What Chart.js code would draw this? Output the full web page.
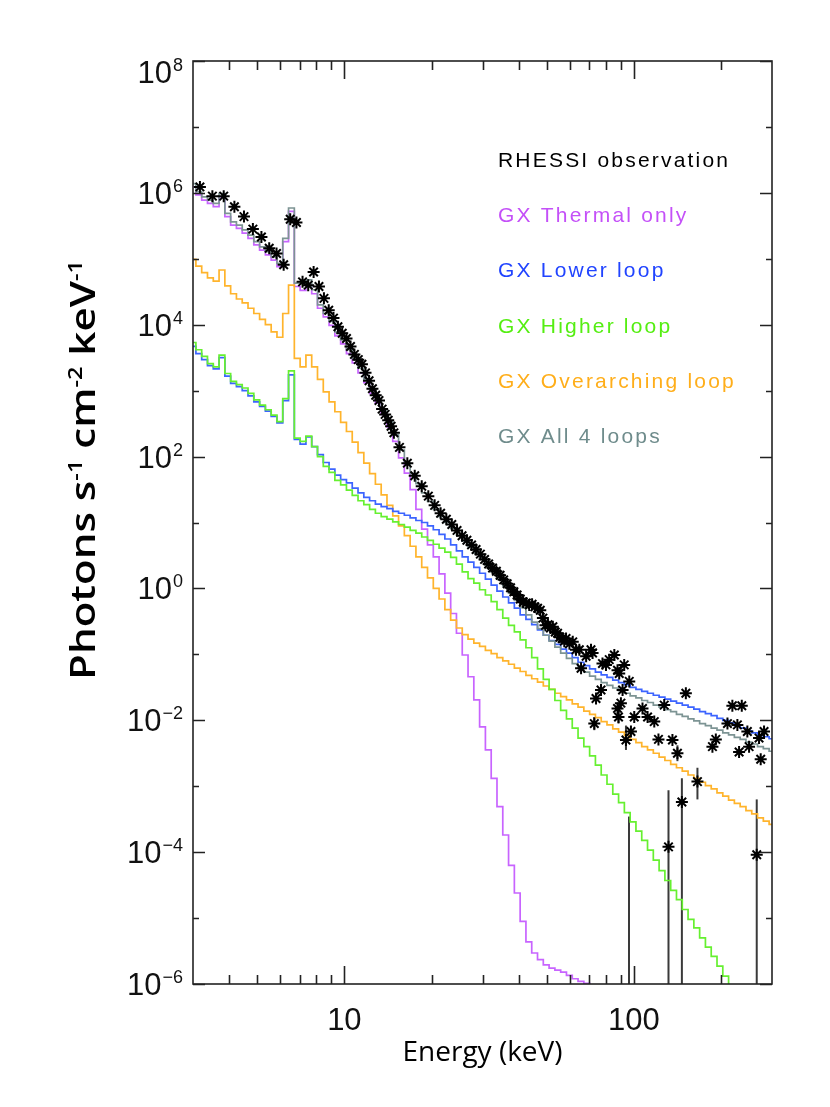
<!DOCTYPE html>
<html>
<head>
<meta charset="utf-8">
<script src="https://cdn.jsdelivr.net/npm/chart.js@4.4.0/dist/chart.umd.min.js"></script>
<style>
  html, body { margin: 0; padding: 0; background: #fff; }
  canvas { display: block; }
</style>
</head>
<body>
<canvas id="spectrum" width="830" height="1107"></canvas>
<script>
// model spectra sit on a log-spaced energy grid, 0.02 dex per bin
const binStartKeV = 2.932;
const binWidthDex = 0.02;

// log10 of flux (photons s^-1 cm^-2 keV^-1) in each model bin
const thermalLog = [
  6.09, 5.97, 5.89, 5.84, 5.79, 5.94, 5.64, 5.51, 5.46, 5.39,
  5.31, 5.21, 5.13, 5.06, 4.98, 4.88, 5.26, 5.72, 4.58, 4.52,
  4.60, 4.47, 4.25, 4.12, 3.99, 3.83, 3.71, 3.56, 3.42, 3.27,
  3.12, 2.96, 2.81, 2.64, 2.45, 2.23, 1.98, 1.75, 1.50, 1.20,
  0.90, 0.66, 0.48, 0.22, -0.07, -0.38, -0.68, -1.01, -1.34, -1.69,
  -2.10, -2.45, -2.88, -3.31, -3.74, -4.20, -4.62, -5.05, -5.36, -5.53,
  -5.63, -5.71, -5.76, -5.79, -5.82, -5.87, -5.92, -5.96, -5.99, -6.04, -6.08
];
const lowerLoopLog = [
  3.67, 3.56, 3.47, 3.38, 3.33, 3.50, 3.22, 3.11, 3.06, 3.00,
  2.92, 2.83, 2.76, 2.69, 2.61, 2.51, 2.85, 3.24, 2.26, 2.19,
  2.30, 2.15, 2.03, 1.91, 1.81, 1.72, 1.65, 1.60, 1.52, 1.45,
  1.38, 1.33, 1.28, 1.24, 1.21, 1.17, 1.14, 1.11, 1.07, 1.03,
  1.00, 0.95, 0.89, 0.82, 0.75, 0.66, 0.57, 0.48, 0.40, 0.32,
  0.23, 0.14, 0.05, -0.04, -0.13, -0.22, -0.30, -0.40, -0.47, -0.55,
  -0.63, -0.71, -0.79, -0.85, -0.92, -0.98, -1.05, -1.12, -1.17, -1.22,
  -1.27, -1.31, -1.35, -1.39, -1.43, -1.46, -1.50, -1.53, -1.56, -1.59,
  -1.62, -1.65, -1.68, -1.71, -1.74, -1.77, -1.80, -1.83, -1.87, -1.90,
  -1.93, -1.97, -2.00, -2.04, -2.08, -2.12, -2.16, -2.19, -2.22, -2.25, -2.28
];
const higherLoopLog = [
  3.73, 3.62, 3.52, 3.41, 3.36, 3.54, 3.26, 3.14, 3.09, 3.04,
  2.96, 2.86, 2.78, 2.71, 2.63, 2.53, 2.88, 3.30, 2.28, 2.23,
  2.31, 2.15, 2.00, 1.85, 1.76, 1.64, 1.57, 1.49, 1.41, 1.33,
  1.27, 1.20, 1.14, 1.09, 1.05, 1.01, 0.97, 0.93, 0.88, 0.84,
  0.78, 0.73, 0.67, 0.61, 0.55, 0.47, 0.37, 0.25, 0.15, 0.08,
  -0.02, -0.10, -0.20, -0.32, -0.45, -0.56, -0.66, -0.78, -0.90, -1.05,
  -1.22, -1.38, -1.53, -1.70, -1.85, -1.98, -2.12, -2.27, -2.40, -2.54,
  -2.68, -2.83, -2.97, -3.12, -3.25, -3.40, -3.54, -3.68, -3.82, -3.97,
  -4.12, -4.28, -4.43, -4.58, -4.72, -4.87, -5.02, -5.15, -5.30, -5.44,
  -5.58, -5.73, -5.88, -6.02, -6.16
];
const overarchingLog = [
  4.99, 4.89, 4.79, 4.71, 4.66, 4.83, 4.59, 4.47, 4.39, 4.33,
  4.25, 4.17, 4.08, 4.00, 3.89, 3.81, 4.17, 4.60, 3.49, 3.36,
  3.54, 3.36, 3.17, 2.98, 2.83, 2.68, 2.52, 2.38, 2.22, 2.06,
  1.90, 1.74, 1.58, 1.42, 1.26, 1.10, 0.95, 0.80, 0.64, 0.48,
  0.32, 0.16, 0.00, -0.16, -0.32, -0.48, -0.60, -0.70, -0.77, -0.83,
  -0.88, -0.94, -0.99, -1.05, -1.10, -1.15, -1.21, -1.26, -1.32, -1.37,
  -1.42, -1.48, -1.53, -1.59, -1.64, -1.69, -1.75, -1.80, -1.86, -1.91,
  -1.96, -2.02, -2.07, -2.13, -2.18, -2.23, -2.29, -2.34, -2.40, -2.45,
  -2.50, -2.56, -2.61, -2.67, -2.72, -2.77, -2.83, -2.88, -2.94, -2.99,
  -3.04, -3.10, -3.15, -3.21, -3.26, -3.31, -3.37, -3.42, -3.48, -3.53, -3.58
];
const allLoopsLog = [
  6.14, 6.02, 5.94, 5.89, 5.84, 5.99, 5.69, 5.56, 5.51, 5.44,
  5.36, 5.26, 5.18, 5.11, 5.03, 4.93, 5.31, 5.77, 4.63, 4.63,
  4.68, 4.53, 4.30, 4.17, 4.05, 3.89, 3.77, 3.62, 3.49, 3.34,
  3.17, 3.02, 2.88, 2.72, 2.54, 2.33, 2.10, 1.90, 1.74, 1.59,
  1.45, 1.32, 1.20, 1.09, 1.00, 0.91, 0.81, 0.72, 0.63, 0.54,
  0.45, 0.35, 0.25, 0.14, 0.04, -0.07, -0.18, -0.29, -0.40, -0.51,
  -0.61, -0.71, -0.80, -0.89, -0.98, -1.06, -1.14, -1.21, -1.27, -1.33,
  -1.38, -1.43, -1.47, -1.51, -1.55, -1.59, -1.63, -1.66, -1.70, -1.73,
  -1.77, -1.80, -1.84, -1.87, -1.91, -1.94, -1.98, -2.01, -2.05, -2.08,
  -2.12, -2.15, -2.19, -2.22, -2.26, -2.29, -2.33, -2.36, -2.40, -2.43, -2.47
];

// RHESSI points: energy (keV) and log10 flux
const obsEnergy = [
  3.17, 3.5, 3.83, 4.17, 4.5, 4.83, 5.17, 5.5, 5.83, 6.17, 6.5, 6.83,
  7.17, 7.5, 7.83, 8.17, 8.5, 8.83, 9.17, 9.5, 9.83, 10.17, 10.5, 10.83,
  11.17, 11.5, 11.83, 12.17, 12.5, 12.83, 13.17, 13.5, 13.83, 14.17, 14.5, 14.83,
  15.5, 16.5, 17.5, 18.5, 19.5, 20.5, 21.5, 22.5, 23.5, 24.5, 25.5, 26.5,
  27.5, 28.5, 29.5, 30.5, 31.5, 32.5, 33.5, 34.5, 35.5, 36.5, 37.5, 38.5,
  39.5, 40.5, 41.5, 42.5, 43.5, 44.5, 45.5, 46.5, 47.5, 48.5, 49.5, 50.5,
  51.5, 52.5, 53.5, 54.5, 55.5, 56.5, 57.5,
  58.3, 59.9, 61.5, 63.1, 64.8, 65.7, 68.4, 71.1, 72.0, 73.0, 74.0, 77.0,
  77.9, 80.1, 82.2, 85.6, 87.8, 87.8, 88.5, 89.0, 90.2, 91.4, 92.6, 93.9,
  96.4, 97.7, 100.3, 107.1, 111.5, 117.6, 121.6, 127.3, 131.7, 135.9, 141.4, 146.5,
  151.2, 165.8, 186.8, 191.9, 210.5, 218.9, 227.8, 230.9, 235.9, 246.6, 250.0, 265.7,
  270.6, 274.2, 281.6
];
const obsLog = [
  6.09, 5.95, 5.95, 5.79, 5.64, 5.45, 5.33, 5.16, 5.08, 4.91, 5.60, 5.55,
  4.65, 4.60, 4.80, 4.58, 4.40, 4.22, 4.10, 3.97, 3.87, 3.79, 3.67, 3.55,
  3.47, 3.40, 3.27, 3.15, 3.03, 2.93, 2.85, 2.72, 2.64, 2.55, 2.46, 2.36,
  2.14, 1.90, 1.71, 1.55, 1.40, 1.26, 1.14, 1.05, 0.97, 0.88, 0.80, 0.73,
  0.66, 0.59, 0.52, 0.44, 0.37, 0.31, 0.26, 0.20, 0.13, 0.07, 0.01, -0.05,
  -0.10, -0.16, -0.21, -0.22, -0.25, -0.24, -0.28, -0.30, -0.33, -0.45, -0.56, -0.55,
  -0.60, -0.58, -0.66, -0.68, -0.74, -0.76, -0.80,
  -0.76, -0.84, -0.81, -0.93, -0.93, -1.21, -1.03, -0.93, -0.98, -2.05, -1.67, -1.54,
  -1.14, -1.16, -1.08, -1.01, -1.24, -1.82, -1.95, -1.29, -1.74, -1.54, -1.16, -2.30,
  -1.41, -2.17, -1.95, -1.82, -1.95, -2.02, -2.29, -1.77, -3.92, -2.30, -2.50, -3.24,
  -1.59, -2.93, -2.40, -2.29, -2.05, -1.78, -2.07, -2.48, -1.78, -2.17, -2.40, -4.04,
  -2.27, -2.59, -2.17
];

// error bars that show at high energy (log10 ends, -7 runs off the bottom)
const errEnergy = [73.0, 88.5, 93.9, 96.2, 131.7, 141.4, 146.5, 165.8, 265.7];
const errLowLog = [-2.15, -2.05, -2.45, -7, -7, -2.62, -7, -3.20, -7];
const errHighLog = [-1.95, -1.85, -2.08, -3.46, -3.06, -2.38, -2.88, -2.72, -3.20];

const yTickExponents = [8, 7, 6, 5, 4, 3, 2, 1, 0, -1, -2, -3, -4, -5, -6];
const yLabelExponents = [8, 6, 4, 2, 0, -2, -4, -6];
const xMinorTicks = [4, 5, 6, 7, 8, 9, 20, 30, 40, 50, 60, 70, 80, 90, 200];
const xMajorTicks = [10, 100];

const legendNames = ['RHESSI observation', 'GX Thermal only', 'GX Lower loop',
  'GX Higher loop', 'GX Overarching loop', 'GX All 4 loops'];
const legendColors = ['#000000', '#c450f8', '#2144ff', '#55ee12', '#ffae1a', '#6f8c8c'];
const lineColors = ['#c864ff', '#3c64ff', '#66f030', '#ffb42c', '#7d9494'];

const titleFont = '"Open Sans", "Liberation Sans", sans-serif';

function stepPoints(logs) {
  const pts = logs.map((v, i) => ({ x: binStartKeV * 10 ** (binWidthDex * i), y: 10 ** v }));
  const n = logs.length;
  pts.push({ x: binStartKeV * 10 ** (binWidthDex * n), y: 10 ** logs[n - 1] });
  return pts;
}

const obsPoints = obsEnergy.map((e, i) => ({ x: e, y: 10 ** obsLog[i] }));

function supText(n) {
  return n < 0 ? '\u2212' + Math.abs(n) : String(n);
}

function partFont(p, size, supSize) {
  return '600 ' + (p.sup ? supSize : size) + 'px ' + titleFont;
}

const decorations = {
  id: 'decorations',
  beforeDatasetsDraw(chart) {
    const { ctx, chartArea: a, scales: { x, y } } = chart;
    ctx.save();
    ctx.beginPath();
    ctx.rect(a.left, a.top, a.right - a.left, a.bottom - a.top);
    ctx.clip();
    ctx.strokeStyle = '#3a3a3a';
    ctx.lineWidth = 2;
    errEnergy.forEach((e, i) => {
      const px = x.getPixelForValue(e);
      ctx.beginPath();
      ctx.moveTo(px, y.getPixelForValue(10 ** errLowLog[i]));
      ctx.lineTo(px, y.getPixelForValue(10 ** errHighLog[i]));
      ctx.stroke();
    });
    ctx.restore();
  },
  afterDraw(chart) {
    const { ctx, chartArea: a, scales: { x, y } } = chart;
    ctx.save();

    // frame and inward ticks
    ctx.strokeStyle = '#222';
    ctx.lineWidth = 1.6;
    ctx.strokeRect(a.left, a.top, a.right - a.left, a.bottom - a.top);
    ctx.beginPath();
    yTickExponents.forEach(p => {
      const py = Math.round(y.getPixelForValue(10 ** p)) + 0.5;
      const len = p % 2 === 0 ? 12 : 6;
      ctx.moveTo(a.left, py); ctx.lineTo(a.left + len, py);
      ctx.moveTo(a.right, py); ctx.lineTo(a.right - len, py);
    });
    xMinorTicks.concat(xMajorTicks).forEach(v => {
      const px = Math.round(x.getPixelForValue(v)) + 0.5;
      const len = xMajorTicks.includes(v) ? 18 : 9;
      ctx.moveTo(px, a.bottom); ctx.lineTo(px, a.bottom - len);
      ctx.moveTo(px, a.top); ctx.lineTo(px, a.top + len);
    });
    ctx.stroke();

    // y tick labels: 10 with a raised exponent
    ctx.fillStyle = '#111';
    ctx.textBaseline = 'alphabetic';
    ctx.textAlign = 'right';
    yLabelExponents.forEach(p => {
      const py = Math.max(y.getPixelForValue(10 ** p), a.top + 11);
      const base = py + 11;
      ctx.font = '18px "Liberation Sans", sans-serif';
      const exp = supText(p);
      ctx.fillText(exp, 183, base - 12);
      const ew = ctx.measureText(exp).width;
      ctx.font = '31px "Liberation Sans", sans-serif';
      ctx.fillText('10', 183 - ew - 1, base);
    });

    // x tick labels
    ctx.textAlign = 'center';
    ctx.font = '31px "Liberation Sans", sans-serif';
    xMajorTicks.forEach(v => {
      ctx.fillText(String(v), x.getPixelForValue(v), 1030);
    });

    // axis titles
    ctx.font = '500 28px ' + titleFont;
    ctx.fillStyle = '#000';
    ctx.fillText('Energy (keV)', (a.left + a.right) / 2, 1061);

    const parts = [
      { t: 'Photons s' }, { t: '-1', sup: true }, { t: ' cm' }, { t: '-2', sup: true },
      { t: ' keV' }, { t: '-1', sup: true }
    ];
    const size = 34, supSize = 19;
    let natural = 0;
    parts.forEach(p => { ctx.font = partFont(p, size, supSize); natural += ctx.measureText(p.t).width; });
    const target = 420;
    ctx.save();
    ctx.translate(95, 470);
    ctx.rotate(-Math.PI / 2);
    ctx.scale(target / natural, 1);
    ctx.textAlign = 'left';
    let cx = -natural / 2;
    parts.forEach(p => {
      ctx.font = partFont(p, size, supSize);
      ctx.fillText(p.t, cx, p.sup ? -13 : 0);
      cx += ctx.measureText(p.t).width;
    });
    ctx.restore();

    // legend text inside the plot
    ctx.textAlign = 'left';
    ctx.font = '21px "Liberation Sans", sans-serif';
    const w0 = ctx.measureText(legendNames[0]).width;
    const spacing = (230 - w0) / (legendNames[0].length - 1);
    if ('letterSpacing' in ctx) ctx.letterSpacing = spacing.toFixed(2) + 'px';
    const rows = [167, 222, 277, 333, 388, 443];
    legendNames.forEach((name, i) => {
      ctx.fillStyle = legendColors[i];
      ctx.fillText(name, 498, rows[i]);
    });
    ctx.restore();
  }
};

const lineStyle = (color, order) => ({
  stepped: true, borderColor: color, borderWidth: 1.7, pointRadius: 0,
  fill: false, order: order
});

new Chart(document.getElementById('spectrum'), {
  type: 'line',
  data: {
    datasets: [
      { label: legendNames[0], data: obsPoints, showLine: false, pointStyle: 'star',
        pointRadius: 6, pointBorderWidth: 2, pointBorderColor: '#000', borderColor: '#000', order: 0 },
      Object.assign({ label: legendNames[5], data: stepPoints(allLoopsLog) }, lineStyle(lineColors[4], 1)),
      Object.assign({ label: legendNames[3], data: stepPoints(higherLoopLog) }, lineStyle(lineColors[2], 2)),
      Object.assign({ label: legendNames[2], data: stepPoints(lowerLoopLog) }, lineStyle(lineColors[1], 3)),
      Object.assign({ label: legendNames[4], data: stepPoints(overarchingLog) }, lineStyle(lineColors[3], 4)),
      Object.assign({ label: legendNames[1], data: stepPoints(thermalLog) }, lineStyle(lineColors[0], 5))
    ]
  },
  options: {
    responsive: false,
    animation: false,
    devicePixelRatio: 1,
    layout: { padding: { left: 0, right: 58, top: 61, bottom: 0 } },
    plugins: { legend: { display: false }, tooltip: { enabled: false } },
    scales: {
      x: {
        type: 'logarithmic', min: 3, max: 300,
        ticks: { display: false }, grid: { display: false }, border: { display: false },
        afterFit(s) { s.height = 123; }
      },
      y: {
        type: 'logarithmic', min: 1e-6, max: 1e8,
        ticks: { display: false }, grid: { display: false }, border: { display: false },
        afterFit(s) { s.width = 193; }
      }
    }
  },
  plugins: [decorations]
});
</script>
</body>
</html>
